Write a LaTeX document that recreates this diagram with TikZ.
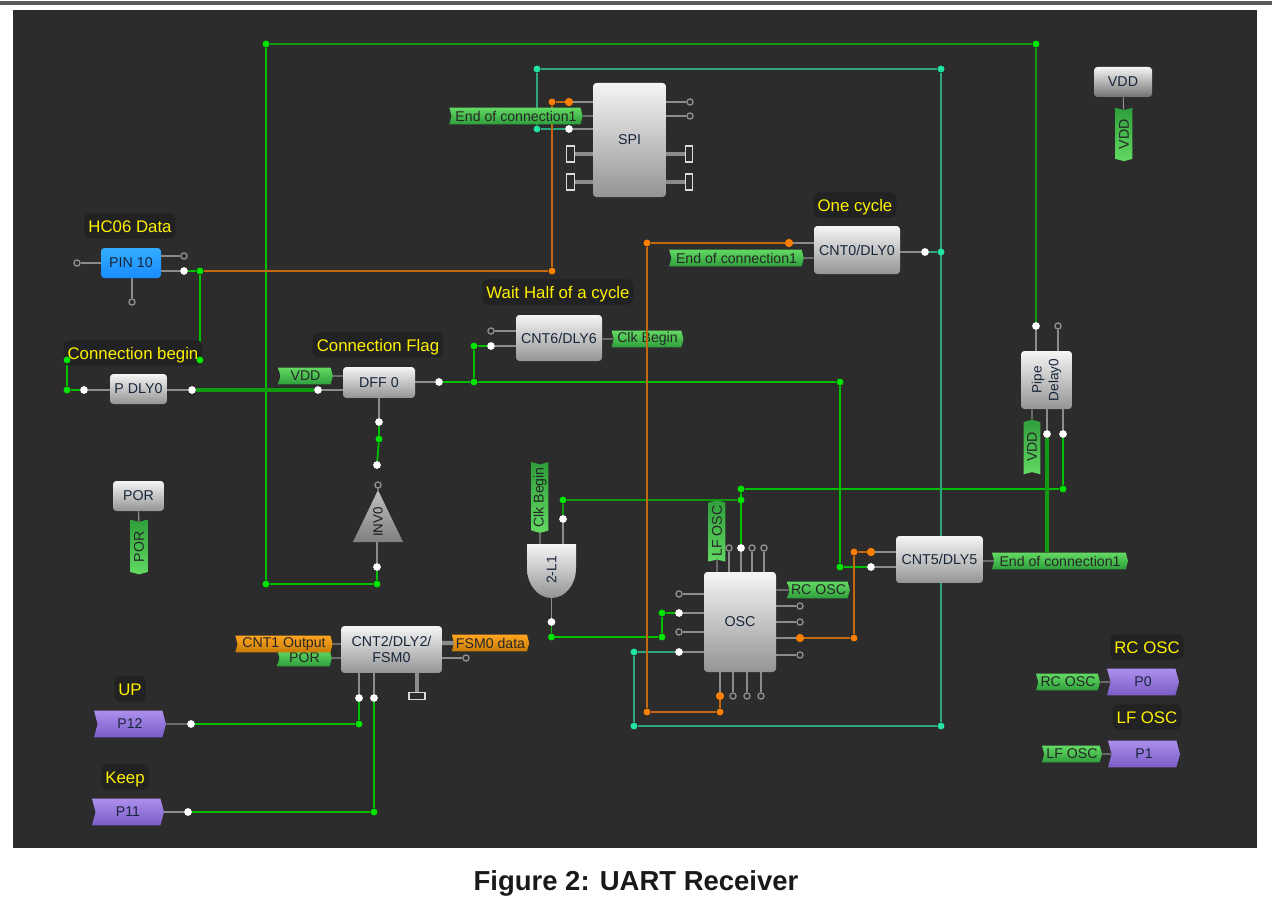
\documentclass[tikz,border=0pt]{standalone}
\usepackage{fontspec}
\setmainfont{Liberation Sans}
\usetikzlibrary{shapes.symbols}
\pgfdeclarelayer{panel}\pgfdeclarelayer{wires}\pgfdeclarelayer{over}
\pgfsetlayers{panel,wires,main,over}
\definecolor{panelbg}{HTML}{2C2C2C}
\definecolor{capbg}{HTML}{222222}
\definecolor{wgreen}{HTML}{00BE00}
\definecolor{wgreendim}{HTML}{0F9A10}
\definecolor{wteal}{HTML}{2FA67E}
\definecolor{worange}{HTML}{C4680E}
\definecolor{stubc}{HTML}{8C8C8C}
\definecolor{inktxt}{HTML}{18263A}
\definecolor{gtop}{HTML}{62DA62}
\definecolor{gbot}{HTML}{2F9E3C}
\definecolor{atop}{HTML}{FFA51E}
\definecolor{abot}{HTML}{C67C06}
\definecolor{ptop}{HTML}{AC8FEC}
\definecolor{pbot}{HTML}{7A5CC8}
\definecolor{dotg}{HTML}{00E600}
\definecolor{doto}{HTML}{FF8000}
\definecolor{dott}{HTML}{20E6A0}
\tikzset{
 x=.75pt,y=-.75pt,
 gbox/.style={rounded corners=2.5pt,top color=white!96!black,bottom color=black!42,inner sep=0pt,text=inktxt,font=\fontsize{10.7}{12.5}\selectfont,align=center},
 capt/.style={fill=capbg,rounded corners=4pt,text=yellow,font=\fontsize{12.6}{14}\selectfont,inner xsep=3pt,inner ysep=5pt,text height=9pt,text depth=0pt},
 banner/.style={signal,signal to=east,signal from=west,signal pointer angle=150,inner sep=0pt,minimum height=12.5pt,text=black!85,font=\fontsize{10.6}{12}\selectfont},
 rbanner/.style={signal,signal to=west,signal from=east,signal pointer angle=150,inner sep=0pt,minimum height=12.5pt,text=black!85,font=\fontsize{10.6}{12}\selectfont},
 gfill/.style={top color=gtop,bottom color=gbot},
 gfillv/.style={top color=gbot,bottom color=gtop},
 ofill/.style={top color=atop,bottom color=abot},
 pfill/.style={banner,top color=ptop,bottom color=pbot,minimum height=20pt,text=inktxt},
 wpin/.style={circle,fill=white,inner sep=0pt,minimum size=5.8pt},
 hpin/.style={circle,draw=stubc,line width=1pt,fill=panelbg,inner sep=0pt,minimum size=4.6pt},
 gdot/.style={circle,fill=dotg,inner sep=0pt,minimum size=5.2pt},
 odot/.style={circle,fill=doto,inner sep=0pt,minimum size=5.2pt},
 obig/.style={circle,fill=doto,inner sep=0pt,minimum size=6.2pt},
 tdot/.style={circle,fill=dott,inner sep=0pt,minimum size=5.2pt},
 busq/.style={rectangle,draw=white!85!black,line width=.8pt,fill=panelbg,inner sep=0pt},
 stub/.style={draw=stubc,line width=.85pt},
 bus/.style={draw=stubc,line width=3.2pt},
 gw/.style={draw=wgreen,line width=1.4pt},
 gt/.style={draw=wgreendim,line width=2.7pt},
 gm/.style={draw=wgreendim,line width=1.8pt},
 tw/.style={draw=wteal,line width=1.2pt},
 ow/.style={draw=worange,line width=1.5pt},
}
\begin{document}
\begin{tikzpicture}
\useasboundingbox (0,0) rectangle (1272,906);
\begin{pgfonlayer}{panel}
\fill[white] (0,0) rectangle (1272,906);
\fill[black!65] (0,1) rectangle (1272,5);
\fill[panelbg] (13,10) rectangle (1257,848);
\end{pgfonlayer}
\node[font=\fontsize{20.6}{23}\bfseries\selectfont,text=black!90,text height=14.5pt,text depth=0pt] (title) at (636,881) {Figure 2: UART Receiver};
% blocks
\node[gbox,minimum width=54.7pt,minimum height=85.5pt] (spi) at (629.5,140) {SPI};
\node[gbox,top color=cyan!60!blue!80!white,bottom color=blue!50!cyan!90!white,minimum width=45pt,minimum height=22.5pt] (pin10) at (131,263) {PIN 10};
\node[gbox,minimum width=42.7pt,minimum height=22.5pt] (pdly) at (138.5,389) {P DLY0};
\node[gbox,minimum width=54pt,minimum height=23.2pt] (dff) at (379,382.5) {DFF 0};
\node[gbox,minimum width=64.5pt,minimum height=34.5pt] (cnt6) at (559,338) {CNT6/DLY6};
\node[gbox,minimum width=64.5pt,minimum height=36pt] (cnt0) at (857,250) {CNT0/DLY0};
\node[gbox,minimum width=65.2pt,minimum height=35.2pt] (cnt5) at (939.5,559.5) {CNT5/DLY5};
\node[gbox,minimum width=38.2pt,minimum height=43.5pt] (pipe) at (1046.5,380) {};
\node[rotate=90,align=center,inner sep=0pt,text=inktxt,font=\fontsize{10.2}{12.5}\selectfont] (pipetxt) at (1046.5,380) {Pipe\\Delay0};
\node[gbox,minimum width=54pt,minimum height=75pt] (osc) at (740,622) {OSC};
\node[gbox,minimum width=75.7pt,minimum height=35.2pt] (cnt2) at (391.5,649.5) {CNT2/DLY2/\\FSM0};
\node[gbox,minimum width=38.2pt,minimum height=22.5pt] (por) at (138.5,496) {POR};
\node[gbox,minimum width=43.5pt,minimum height=22.5pt,bottom color=black!55] (vdd) at (1123,82) {VDD};
% gate and inverter
\shade[top color=white!96!black,bottom color=black!42] (527,544) -- (576,544) -- (576,568) .. controls (576,585) and (565,598) .. (551.5,598) .. controls (538,598) and (527,585) .. (527,568) -- cycle;
\coordinate (gatetop) at (551.5,544);
\coordinate (gatebot) at (551.5,598);
\node[rotate=90,text=inktxt,font=\fontsize{10.4}{12}\selectfont,inner sep=0pt] (gate) at (551.5,570) {2-L1};
\shade[top color=white!75!black,bottom color=black!50] (378,490) -- (403,542) -- (353,542) -- cycle;
\coordinate (invtop) at (378,490);
\coordinate (invbot) at (377,542);
\node[rotate=90,text=black!90,font=\fontsize{10}{12}\selectfont,inner sep=0pt] (inv) at (378,522) {INV0};
% captions
\node[capt] (c1) at (130,226) {HC06 Data};
\node[capt] (c2) at (133,353) {Connection begin};
\node[capt] (c3) at (378,345) {Connection Flag};
\node[capt] (c4) at (558,292) {Wait Half of a cycle};
\node[capt] (c5) at (855,205) {One cycle};
\node[capt] (c6) at (130,689) {UP};
\node[capt] (c7) at (125,777) {Keep};
\node[capt] (c8) at (1147,647) {RC OSC};
\node[capt] (c9) at (1147,717) {LF OSC};
% banners
\node[banner,gfill,minimum width=100pt] (l1) at (516,116) {End of connection1};
\node[banner,gfill,minimum width=101pt] (l2) at (736.5,258) {End of connection1};
\node[banner,gfill,minimum width=102pt] (l3) at (1060,561) {End of connection1};
\node[banner,gfill,minimum width=54pt] (l4) at (647.5,339) {Clk Begin};
\node[banner,gfill,minimum width=41pt] (l5) at (305.5,376) {VDD};
\node[banner,gfill,minimum width=47pt] (l6) at (818.5,590) {RC OSC};
\node[banner,gfill,minimum width=41pt] (l7) at (304.5,658) {POR};
\node[banner,gfill,minimum width=48pt] (l8) at (1068,682) {RC OSC};
\node[banner,gfill,minimum width=45pt] (l9) at (1072,754) {LF OSC};
\node[banner,ofill,minimum width=73pt] (l10) at (284,644) {CNT1 Output};
\node[banner,ofill,minimum width=58pt] (l11) at (490.5,643) {FSM0 data};
\node[rbanner,gfillv,rotate=90,minimum width=53pt] (v1) at (540,497.5) {Clk Begin};
\node[banner,gfillv,rotate=90,minimum width=46pt] (v2) at (717,531) {LF OSC};
\node[banner,gfillv,rotate=90,minimum width=41pt] (v3) at (1032,447) {VDD};
\node[rbanner,gfillv,rotate=90,minimum width=41pt] (v4) at (139,547) {POR};
\node[rbanner,gfillv,rotate=90,minimum width=40pt] (v5) at (1124,134.5) {VDD};
\node[pfill,minimum width=54pt] (p12) at (130,724) {P12};
\node[pfill,minimum width=54pt] (p11) at (128,812) {P11};
\node[pfill,minimum width=54pt] (p0) at (1143,682) {P0};
\node[pfill,minimum width=54pt] (p1) at (1144,754) {P1};
% pins
\node[wpin] (s1) at (569,129) {};
\node[obig] (s2) at (569,102) {};
\node[hpin] (s3) at (690,102) {};
\node[hpin] (s4) at (690,116) {};
\node[busq,minimum width=5.5pt,minimum height=12pt] (b1) at (570.5,154) {};
\node[busq,minimum width=5.5pt,minimum height=12pt] (b2) at (570.5,182) {};
\node[busq,minimum width=5.5pt,minimum height=12pt] (b3) at (689,154) {};
\node[busq,minimum width=5.5pt,minimum height=12pt] (b4) at (689,182) {};
\node[hpin] (p10a) at (77,263) {};
\node[hpin] (p10b) at (184,256) {};
\node[wpin] (p10c) at (184,271) {};
\node[hpin] (p10d) at (132,302) {};
\node[wpin] (pd1) at (84,390) {};
\node[wpin] (pd2) at (192,390) {};
\node[wpin] (df1) at (318,390) {};
\node[wpin] (df2) at (439,382) {};
\node[wpin] (df3) at (379,422) {};
\node[hpin] (c6a) at (491,331) {};
\node[wpin] (c6b) at (491,346) {};
\node[wpin] (c0o) at (925,252) {};
\node[obig] (c0i) at (789,243) {};
\node[obig] (c5a) at (871,552) {};
\node[wpin] (c5b) at (871,567) {};
\node[wpin] (pi1) at (1036,326) {};
\node[hpin] (pi2) at (1058,326) {};
\node[wpin] (pi3) at (1047,434) {};
\node[wpin] (pi4) at (1063,434) {};
\node[wpin] (in1) at (377,465) {};
\node[hpin] (in2) at (378,485) {};
\node[wpin] (in3) at (377,567) {};
\node[wpin] (g1) at (563,519) {};
\node[wpin] (g2) at (551.5,622) {};
\node[hpin] (o1) at (679,594) {};
\node[wpin] (o2) at (679,613) {};
\node[hpin] (o3) at (679,632) {};
\node[wpin] (o4) at (679,652) {};
\node[hpin] (o5) at (729,548) {};
\node[wpin] (o6) at (741,548) {};
\node[hpin] (o7) at (752,548) {};
\node[hpin] (o8) at (764,548) {};
\node[hpin] (o9) at (800,606) {};
\node[hpin] (o10) at (800,622) {};
\node[obig] (o11) at (800,638) {};
\node[hpin] (o12) at (800,655) {};
\node[obig] (o13) at (720,696) {};
\node[hpin] (o14) at (733,696) {};
\node[hpin] (o15) at (747,696) {};
\node[hpin] (o16) at (761,696) {};
\node[wpin] (f1) at (359,698) {};
\node[wpin] (f2) at (374,698) {};
\node[hpin] (f3) at (466,658) {};
\node[busq,minimum width=12pt,minimum height=5pt] (f4) at (417,696) {};
\node[wpin] (w12) at (191,724) {};
\node[wpin] (w11) at (188,812) {};
% junctions
\node[gdot] (j1) at (266,44) {};
\node[gdot] (j2) at (1036,44) {};
\node[gdot] (j3) at (266,584) {};
\node[gdot] (j4) at (377,584) {};
\node[tdot] (t1) at (537,69) {};
\node[tdot] (t2) at (941,69) {};
\node[tdot] (t3) at (537,129) {};
\node[tdot] (t4) at (941,252) {};
\node[tdot] (t5) at (941,726) {};
\node[tdot] (t6) at (634,726) {};
\node[tdot] (t7) at (634,652) {};
\node[odot] (r1) at (552,102) {};
\node[odot] (r2) at (552,271) {};
\node[odot] (r3) at (647,243) {};
\node[odot] (r4) at (647,712) {};
\node[odot] (r5) at (720,712) {};
\node[odot] (r6) at (854,638) {};
\node[odot] (r7) at (854,552) {};
\node[gdot] (k1) at (200,271) {};
\node[gdot] (k2) at (200,360) {};
\node[gdot] (k3) at (67,360) {};
\node[gdot] (k4) at (67,390) {};
\node[gdot] (k5) at (474,382) {};
\node[gdot] (k6) at (474,346) {};
\node[gdot] (k7) at (840,382) {};
\node[gdot] (k8) at (840,567) {};
\node[gdot] (k9) at (379,439) {};
\node[gdot] (k10) at (563,500) {};
\node[gdot] (k11) at (741,500) {};
\node[gdot] (k12) at (741,489) {};
\node[gdot] (k13) at (1063,489) {};
\node[gdot] (k14) at (551.5,637) {};
\node[gdot] (k15) at (662,637) {};
\node[gdot] (k16) at (662,613) {};
\node[gdot] (k17) at (359,724) {};
\node[gdot] (k18) at (374,812) {};
\begin{pgfonlayer}{wires}
% stubs
\foreach \p in {s1,s2} \draw[stub] (\p) -- (\p -| spi.west);
\foreach \p in {s3,s4} \draw[stub] (\p) -- (\p -| spi.east);
\draw[stub] (l1) -- (l1 -| spi.west);
\draw[bus] (b1) -- (b1 -| spi.west); \draw[bus] (b2) -- (b2 -| spi.west);
\draw[bus] (b3) -- (b3 -| spi.east); \draw[bus] (b4) -- (b4 -| spi.east);
\draw[stub] (p10a) -- (pin10); \draw[stub] (p10d) -- (p10d |- pin10.south);
\draw[stub] (p10b) -- (p10b -| pin10.east); \draw[stub] (p10c) -- (p10c -| pin10.east);
\draw[stub] (pd1) -- (pd1 -| pdly.west); \draw[stub] (pd2) -- (pd2 -| pdly.east);
\draw[stub] (df1) -- (df1 -| dff.west); \draw[stub] (l5) -- (l5 -| dff.west);
\draw[stub] (df2) -- (df2 -| dff.east); \draw[stub] (df3) -- (df3 |- dff.south);
\draw[stub] (c6a) -- (c6a -| cnt6.west); \draw[stub] (c6b) -- (c6b -| cnt6.west);
\draw[stub] (l4) -- (l4 -| cnt6.east);
\draw[stub] (c0i) -- (c0i -| cnt0.west); \draw[stub] (l2) -- (l2 -| cnt0.west);
\draw[stub] (c0o) -- (c0o -| cnt0.east);
\draw[stub] (c5a) -- (c5a -| cnt5.west); \draw[stub] (c5b) -- (c5b -| cnt5.west);
\draw[stub] (l3) -- (l3 -| cnt5.east);
\foreach \p in {pi1,pi2} \draw[stub] (\p) -- (\p |- pipe.north);
\foreach \p in {pi3,pi4} \draw[stub] (\p) -- (\p |- pipe.south);
\draw[stub] (v3) -- (v3 |- pipe.south);
\draw[stub] (in2) -- (invtop); \draw[stub] (in3) -- (in3 |- invbot);
\draw[stub] (v1) -- (v1 |- gatetop); \draw[stub] (g1) -- (g1 |- gatetop); \draw[stub] (g2) -- (gatebot);
\foreach \p in {o1,o2,o3,o4} \draw[stub] (\p) -- (\p -| osc.west);
\foreach \p in {o9,o10,o11,o12} \draw[stub] (\p) -- (\p -| osc.east);
\draw[stub] (l6) -- (l6 -| osc.east);
\foreach \p in {o5,o6,o7,o8,v2} \draw[stub] (\p) -- (\p |- osc.north);
\foreach \p in {o13,o14,o15,o16} \draw[stub] (\p) -- (\p |- osc.south);
\draw[stub] (l10) -- (l10 -| cnt2.west); \draw[stub] (l7) -- (l7 -| cnt2.west);
\draw[bus] (l11) -- (l11 -| cnt2.east); \draw[stub] (f3) -- (f3 -| cnt2.east);
\foreach \p in {f1,f2} \draw[stub] (\p) -- (\p |- cnt2.south);
\draw[bus] (f4) -- (f4 |- cnt2.south);
\draw[stub] (p12) -- (w12); \draw[stub] (p11) -- (w11);
\draw[stub] (l8) -- (p0); \draw[stub] (l9) -- (p1);
\draw[stub] (por) -- (v4); \draw[stub] (vdd) -- (v5);
% green wires
\draw[gw] (j3) -- (j1);
\draw[gm] (j1) -- (j2) -- (pi1);
\draw[gw] (j3) -- (j4) -- (in3);
\draw[gw] (p10c) -- (k1) -- (k2) -- (k3) -- (k4) -- (pd1);
\draw[gt] (pd2) -- (df1);
\draw[gw] (df2) -- (k5) -- (k7) -- (k8) -- (c5b);
\draw[gw] (k5) -- (k6) -- (c6b);
\draw[gw] (df3) -- (k9) -- (in1);
\draw[gm] (g1) -- (k10) -- (k11);
\draw[gw] (k11) -- (k12) -- (k13) -- (pi4);
\draw[gw] (o6) -- (k12);
\draw[gw] (g2) -- (k14) -- (k15) -- (k16) -- (o2);
\draw[gw] (w12) -- (k17) -- (f1);
\draw[gw] (w11) -- (k18) -- (f2);
\draw[gt] (pi3) -- (pi3 |- l3.north);
% teal wires
\draw[tw] (s1) -- (t3) -- (t1) -- (t2) -- (t5) -- (t6) -- (t7) -- (o4);
\draw[tw] (c0o) -- (t4);
% orange wires
\draw[ow] (s2) -- (r1) -- (r2) -- (k1);
\draw[ow] (c0i) -- (r3);
\draw[ow] (r4) -- (r5) -- (o13);
\draw[ow] (o11) -- (r6) -- (r7) -- (c5a);
\end{pgfonlayer}
\begin{pgfonlayer}{over}
\draw[ow] (r3) -- (r4);
\end{pgfonlayer}
\end{tikzpicture}
\end{document}
